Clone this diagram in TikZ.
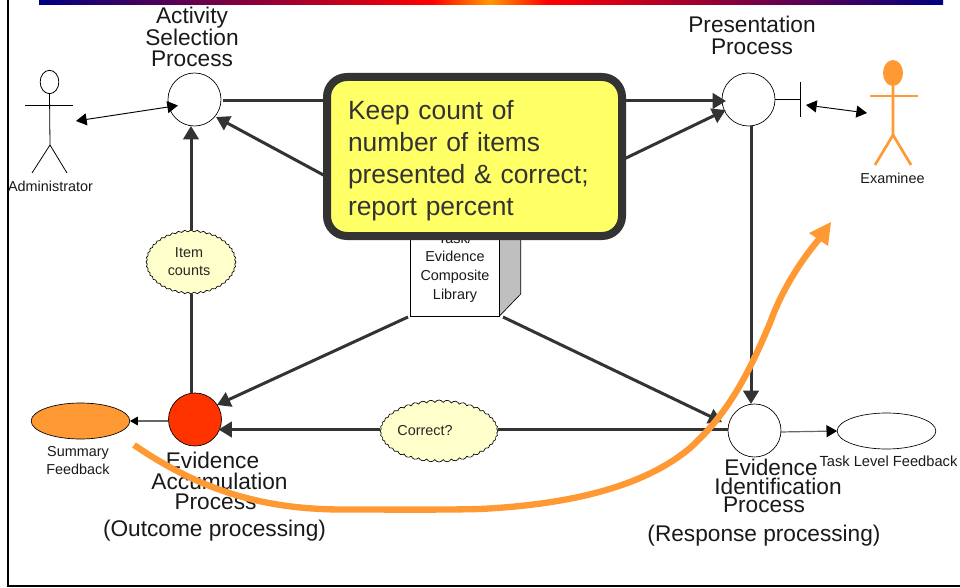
\documentclass[tikz,border=0pt]{standalone}
\usepackage{fontspec}
\setmainfont{Liberation Sans}
\usetikzlibrary{arrows.meta,shapes.geometric,shapes.symbols,calc}
\definecolor{dk}{HTML}{333333}
\definecolor{og}{HTML}{FF9933}
\definecolor{cl}{HTML}{FFFFCC}
\definecolor{callfill}{HTML}{FFFF66}
\tikzset{
  x=0.75pt,y=-0.75pt,
  proc/.style={circle,draw=black,line width=0.5pt,fill=white,minimum size=39.75pt,inner sep=0pt,outer sep=0pt},
  fb/.style={ellipse,draw=black,line width=0.5pt,minimum width=74pt,minimum height=27pt,inner sep=0pt,outer sep=0pt},
  puff/.style={cloud,cloud puffs=44,cloud puff arc=120,cloud ignores aspect,draw=black,line width=0.5pt,fill=cl,inner sep=0pt,outer sep=0pt,font=\fontsize{10.8}{13.5}\selectfont,align=center,text=black!85},
  big/.style={font=\fontsize{17}{16}\selectfont,align=center,inner sep=0pt,text=black!90},
  small/.style={font=\fontsize{10.8}{13.5}\selectfont,align=center,inner sep=0pt,text=black!90},
  heavy/.style={draw=dk,line width=2.25pt},
  heavyarrow/.style={heavy,-{Triangle[length=10pt,width=11.5pt]}},
  thinarrow/.style={draw=black!60,line width=0.9pt,-{Triangle[length=8pt,width=9pt,color=black]}},
  both/.style={draw=black,line width=0.7pt,{Triangle[length=8pt,width=9pt]}-{Triangle[length=8pt,width=9pt]}},
  actor/.style={draw=black,line width=0.6pt},
  actoro/.style={draw=og,line width=2pt},
}
\begin{document}
\begin{tikzpicture}
\useasboundingbox (0,0) rectangle (960,588);
\begin{scope}
\clip (0,0) rectangle (960,588);
% top bar
\shade[left color={rgb,255:red,0;green,0;blue,128},right color=red] (39,-2) rectangle (433,5);
\shade[left color=red,right color={rgb,255:red,255;green,153;blue,0}] (432.5,-2) rectangle (490,5);
\shade[left color={rgb,255:red,255;green,153;blue,0},right color=red] (489.5,-2) rectangle (547,5);
\shade[left color=red,right color={rgb,255:red,0;green,0;blue,128}] (546.5,-2) rectangle (943,5);
% frame
\draw[black,line width=1.5pt] (8.3,-2) -- (8.3,586) -- (962,586);

% process nodes
\node[proc] (asp) at (194.5,99.5) {};
\node[proc] (pp) at (748.5,99.5) {};
\node[proc,fill={rgb,255:red,255;green,51;blue,0}] (eap) at (195,419.5) {};
\node[proc] (eip) at (754.5,430.5) {};
\node[fb,fill=og] (sum) at (80.5,421) {};
\node[fb,fill=white] (task) at (886.5,431) {};

% clouds
\node[puff,minimum width=67.5pt,minimum height=48pt] (item) at (191,262) {\hspace*{-3pt}Item\\\hspace*{-3pt}counts};
\node[puff,minimum width=85.5pt,minimum height=46.5pt] (corr) at (439,431) {Correct?\hspace*{21pt}};

% library
\fill[black!25] (499.5,316) -- (520.7,294) -- (520.7,200) -- (499.5,200) -- cycle;
\draw[black,line width=0.5pt] (499.5,316) -- (520.7,294) -- (520.7,200);
\node[draw=black,line width=0.5pt,fill=white,minimum width=66.75pt,minimum height=72pt,inner sep=0pt,outer sep=0pt,font=\fontsize{10.8}{14}\selectfont,align=center,text=black!90] (lib) at (455,268) {Task/\\Evidence\\Composite\\Library\rule[-3pt]{0pt}{1pt}};

% connectors
\draw[heavyarrow] ($(asp.east)+(2,1.5)$) -- ($(pp.west)+(4,1.5)$);
\draw[heavyarrow] ($(lib.north west)+(0,2)$) -- ($(asp.center)+(21.5,17.5)$);
\draw[heavyarrow] ($(lib.north east)+(0,-1)$) -- ($(pp.center)+(-22.8,10.5)$);
\draw[heavy] ($(eap.north)+(-4,1)$) -- (item.south);
\draw[heavyarrow] (item.north) -- ($(asp.south)+(-3.5,0)$) ;
\draw[heavyarrow] ($(pp.south)+(2.5,0)$) -- ($(eip.north)+(-3.5,0)$);
\draw[heavyarrow] ($(lib.south west)+(-2.5,1)$) -- ($(eap.center)+(22,-14.5)$);
\draw[heavyarrow] ($(lib.south east)+(3.5,1)$) -- ($(eip.center)+(-32.5,-8.5)$);
\draw[heavy] ($(eip.west)+(0,-1)$) -- (corr.east |- 0,429.5);
\draw[heavyarrow] (corr.west |- 0,429.5) -- ($(eap.east)+(-3,10)$);
\draw[draw=black!60,line width=0.9pt,-{Triangle[length=6pt,width=6.5pt,color=black]}] ($(eap.west)+(-1,1.5)$) -- (sum.east);
\draw[thinarrow] ($(eip.east)+(-1,1.5)$) -- (task.west);

% administrator
\node[draw=black,line width=0.6pt,ellipse,minimum width=14pt,minimum height=17.5pt,inner sep=0pt,outer sep=0pt] (adhead) at (49.5,82) {};
\coordinate (adhip) at (50,145);
\draw[actor] (adhead.south) -- (adhip) -- (32,173);
\draw[actor] (adhip) -- (67,173);
\draw[actor] (25,105) -- (73,105);
\coordinate (adport) at (76,121);
\draw[both] (adport) -- ($(asp.center)+(-16.5,6)$);
\node[small] (adlab) at (50.5,186) {Administrator};

% examinee
\node[ellipse,fill=og,minimum width=15pt,minimum height=19.5pt,inner sep=0pt,outer sep=0pt] (exhead) at (893,73) {};
\coordinate (exhip) at (893,135);
\draw[actoro] (exhead.south) -- (exhip) -- (875,165);
\draw[actoro] (exhip) -- (911,165);
\draw[actoro] (870,96) -- (918,96);
\node[small] (exlab) at (892.5,178) {Examinee};
\coordinate (tbar) at (800.5,99.5);
\draw[actor] (pp.east) -- (tbar);
\draw[actor] (800.5,82) -- (800.5,117);
\coordinate (export) at (867,113);
\draw[both] (806,105) -- (export);

% labels
\node[big] (asplab) at (192,37) {Activity\\Selection\\Process};
\node[big] (pplab) at (752,35.5) {Presentation\\Process};
\node[big,font=\fontsize{17}{15.4}\selectfont] (eaplab) at (219.5,481) {Evidence\hspace*{10.5pt}\\Accumulation\\Process\hspace*{6pt}};
\node[big,font=\fontsize{17}{14}\selectfont] (eiplab) at (778,486) {Evidence\hspace*{10.5pt}\\Identification\\Process\hspace*{21pt}};
\node[big,anchor=base] (outc) at (214.5,536) {(Outcome processing)};
\node[big,anchor=base] (resp) at (764,541) {(Response processing)};
\node[small] (sumlab) at (78,461) {Summary\\Feedback};
\node[small,font=\fontsize{11}{13.5}\selectfont] (tasklab) at (888.5,461) {Task Level Feedback};

% callout
\node[draw=dk,fill=callfill,line width=6pt,rounded corners=15pt,minimum width=221.25pt,minimum height=119.25pt,inner xsep=15.75pt,inner ysep=0pt,outer sep=0pt,text width=189.75pt,align=left,font=\fontsize{19.8}{24}\selectfont,text=dk] (call) at (474.5,156.5) {\rule{0pt}{20.5pt}Keep count of\\number of items\\presented \& correct;\\report percent};

% orange curve
\coordinate (orstart) at (134,445);
\coordinate (orend) at (820,238);
\draw[og,line width=4.75pt] (orstart) .. controls (190,483) and (250,509) .. (340,509.5)
  .. controls (390,509.5) and (440,510) .. (480,509)
  .. controls (560,505) and (640,490) .. (690,448)
  .. controls (730,412) and (750,370) .. (770,323)
  .. controls (780,295) and (797,265) .. (orend);
\fill[og] (831,222) -- (809,233) -- (828,246) -- cycle;
\end{scope}
\end{tikzpicture}
\end{document}
